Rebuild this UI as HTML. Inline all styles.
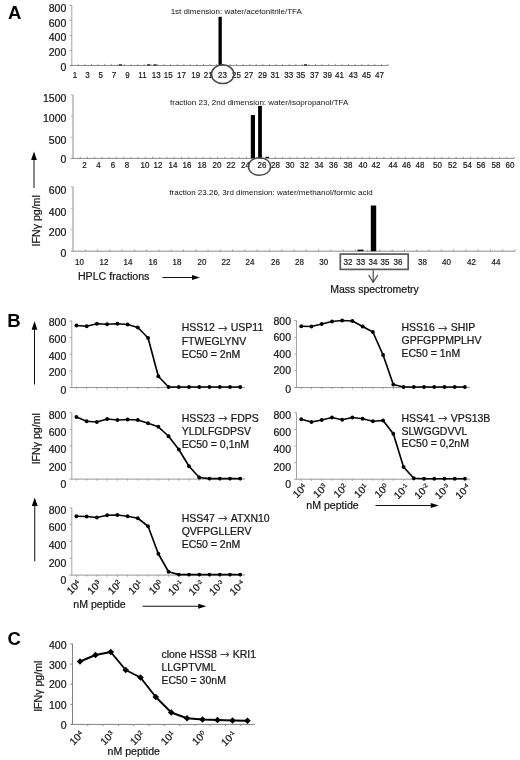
<!DOCTYPE html>
<html lang="en">
<head>
<meta charset="utf-8">
<title>Figure</title>
<style>
html,body{margin:0;padding:0;background:#fff;}
body{width:520px;height:760px;overflow:hidden;font-family:"Liberation Sans",Arial,sans-serif;}
svg{display:block;font-family:"Liberation Sans",Arial,sans-serif;}
text{stroke:#222;stroke-width:0.22px;}
text.p{stroke:none;}
</style>
</head>
<body>
<svg width="520" height="760" viewBox="0 0 520 760">
<rect x="0" y="0" width="520" height="760" fill="#ffffff"/>
<text transform="translate(8,19.2) scale(1.06,1)" class="p" font-size="17.5" font-weight="bold" fill="#000">A</text>
<text transform="translate(7.2,327.4) scale(1.06,1)" class="p" font-size="17.5" font-weight="bold" fill="#000">B</text>
<text transform="translate(7.4,645.4) scale(1.06,1)" class="p" font-size="17.5" font-weight="bold" fill="#000">C</text>
<line x1="71.8" y1="5.2" x2="71.8" y2="65.5" stroke="#a4a4a4" stroke-width="1" />
<line x1="69.6" y1="65.5" x2="388" y2="65.5" stroke="#8c8c8c" stroke-width="1" />
<line x1="69.6" y1="5.5" x2="71.8" y2="5.5" stroke="#a4a4a4" stroke-width="1" />
<line x1="69.6" y1="20.5" x2="71.8" y2="20.5" stroke="#a4a4a4" stroke-width="1" />
<line x1="69.6" y1="35.5" x2="71.8" y2="35.5" stroke="#a4a4a4" stroke-width="1" />
<line x1="69.6" y1="50.5" x2="71.8" y2="50.5" stroke="#a4a4a4" stroke-width="1" />
<line x1="78.39" y1="63.9" x2="78.39" y2="65.5" stroke="#8c8c8c" stroke-width="0.9" />
<line x1="84.97" y1="63.9" x2="84.97" y2="65.5" stroke="#8c8c8c" stroke-width="0.9" />
<line x1="91.56" y1="63.9" x2="91.56" y2="65.5" stroke="#8c8c8c" stroke-width="0.9" />
<line x1="98.15" y1="63.9" x2="98.15" y2="65.5" stroke="#8c8c8c" stroke-width="0.9" />
<line x1="104.74" y1="63.9" x2="104.74" y2="65.5" stroke="#8c8c8c" stroke-width="0.9" />
<line x1="111.32" y1="63.9" x2="111.32" y2="65.5" stroke="#8c8c8c" stroke-width="0.9" />
<line x1="117.91" y1="63.9" x2="117.91" y2="65.5" stroke="#8c8c8c" stroke-width="0.9" />
<line x1="124.5" y1="63.9" x2="124.5" y2="65.5" stroke="#8c8c8c" stroke-width="0.9" />
<line x1="131.09" y1="63.9" x2="131.09" y2="65.5" stroke="#8c8c8c" stroke-width="0.9" />
<line x1="137.68" y1="63.9" x2="137.68" y2="65.5" stroke="#8c8c8c" stroke-width="0.9" />
<line x1="144.26" y1="63.9" x2="144.26" y2="65.5" stroke="#8c8c8c" stroke-width="0.9" />
<line x1="150.85" y1="63.9" x2="150.85" y2="65.5" stroke="#8c8c8c" stroke-width="0.9" />
<line x1="157.44" y1="63.9" x2="157.44" y2="65.5" stroke="#8c8c8c" stroke-width="0.9" />
<line x1="164.03" y1="63.9" x2="164.03" y2="65.5" stroke="#8c8c8c" stroke-width="0.9" />
<line x1="170.61" y1="63.9" x2="170.61" y2="65.5" stroke="#8c8c8c" stroke-width="0.9" />
<line x1="177.2" y1="63.9" x2="177.2" y2="65.5" stroke="#8c8c8c" stroke-width="0.9" />
<line x1="183.79" y1="63.9" x2="183.79" y2="65.5" stroke="#8c8c8c" stroke-width="0.9" />
<line x1="190.38" y1="63.9" x2="190.38" y2="65.5" stroke="#8c8c8c" stroke-width="0.9" />
<line x1="196.96" y1="63.9" x2="196.96" y2="65.5" stroke="#8c8c8c" stroke-width="0.9" />
<line x1="203.55" y1="63.9" x2="203.55" y2="65.5" stroke="#8c8c8c" stroke-width="0.9" />
<line x1="210.14" y1="63.9" x2="210.14" y2="65.5" stroke="#8c8c8c" stroke-width="0.9" />
<line x1="216.72" y1="63.9" x2="216.72" y2="65.5" stroke="#8c8c8c" stroke-width="0.9" />
<line x1="223.31" y1="63.9" x2="223.31" y2="65.5" stroke="#8c8c8c" stroke-width="0.9" />
<line x1="229.9" y1="63.9" x2="229.9" y2="65.5" stroke="#8c8c8c" stroke-width="0.9" />
<line x1="236.49" y1="63.9" x2="236.49" y2="65.5" stroke="#8c8c8c" stroke-width="0.9" />
<line x1="243.07" y1="63.9" x2="243.07" y2="65.5" stroke="#8c8c8c" stroke-width="0.9" />
<line x1="249.66" y1="63.9" x2="249.66" y2="65.5" stroke="#8c8c8c" stroke-width="0.9" />
<line x1="256.25" y1="63.9" x2="256.25" y2="65.5" stroke="#8c8c8c" stroke-width="0.9" />
<line x1="262.84" y1="63.9" x2="262.84" y2="65.5" stroke="#8c8c8c" stroke-width="0.9" />
<line x1="269.43" y1="63.9" x2="269.43" y2="65.5" stroke="#8c8c8c" stroke-width="0.9" />
<line x1="276.01" y1="63.9" x2="276.01" y2="65.5" stroke="#8c8c8c" stroke-width="0.9" />
<line x1="282.6" y1="63.9" x2="282.6" y2="65.5" stroke="#8c8c8c" stroke-width="0.9" />
<line x1="289.19" y1="63.9" x2="289.19" y2="65.5" stroke="#8c8c8c" stroke-width="0.9" />
<line x1="295.77" y1="63.9" x2="295.77" y2="65.5" stroke="#8c8c8c" stroke-width="0.9" />
<line x1="302.36" y1="63.9" x2="302.36" y2="65.5" stroke="#8c8c8c" stroke-width="0.9" />
<line x1="308.95" y1="63.9" x2="308.95" y2="65.5" stroke="#8c8c8c" stroke-width="0.9" />
<line x1="315.54" y1="63.9" x2="315.54" y2="65.5" stroke="#8c8c8c" stroke-width="0.9" />
<line x1="322.12" y1="63.9" x2="322.12" y2="65.5" stroke="#8c8c8c" stroke-width="0.9" />
<line x1="328.71" y1="63.9" x2="328.71" y2="65.5" stroke="#8c8c8c" stroke-width="0.9" />
<line x1="335.3" y1="63.9" x2="335.3" y2="65.5" stroke="#8c8c8c" stroke-width="0.9" />
<line x1="341.89" y1="63.9" x2="341.89" y2="65.5" stroke="#8c8c8c" stroke-width="0.9" />
<line x1="348.48" y1="63.9" x2="348.48" y2="65.5" stroke="#8c8c8c" stroke-width="0.9" />
<line x1="355.06" y1="63.9" x2="355.06" y2="65.5" stroke="#8c8c8c" stroke-width="0.9" />
<line x1="361.65" y1="63.9" x2="361.65" y2="65.5" stroke="#8c8c8c" stroke-width="0.9" />
<line x1="368.24" y1="63.9" x2="368.24" y2="65.5" stroke="#8c8c8c" stroke-width="0.9" />
<line x1="374.82" y1="63.9" x2="374.82" y2="65.5" stroke="#8c8c8c" stroke-width="0.9" />
<line x1="381.41" y1="63.9" x2="381.41" y2="65.5" stroke="#8c8c8c" stroke-width="0.9" />
<line x1="388.0" y1="63.9" x2="388.0" y2="65.5" stroke="#8c8c8c" stroke-width="0.9" />
<text x="66.3" y="12.0" font-size="10.5" text-anchor="end" fill="#111" >800</text>
<text x="66.3" y="26.7" font-size="10.5" text-anchor="end" fill="#111" >600</text>
<text x="66.3" y="41.4" font-size="10.5" text-anchor="end" fill="#111" >400</text>
<text x="66.3" y="56.3" font-size="10.5" text-anchor="end" fill="#111" >200</text>
<text x="66.3" y="71.3" font-size="10.5" text-anchor="end" fill="#111" >0</text>
<text transform="translate(75.0,77.5) scale(0.85,1)" font-size="9.4" text-anchor="middle" fill="#111">1</text>
<text transform="translate(87.5,77.5) scale(0.85,1)" font-size="9.4" text-anchor="middle" fill="#111">3</text>
<text transform="translate(100.75,77.5) scale(0.85,1)" font-size="9.4" text-anchor="middle" fill="#111">5</text>
<text transform="translate(114.0,77.5) scale(0.85,1)" font-size="9.4" text-anchor="middle" fill="#111">7</text>
<text transform="translate(127.5,77.5) scale(0.85,1)" font-size="9.4" text-anchor="middle" fill="#111">9</text>
<text transform="translate(142.5,77.5) scale(0.85,1)" font-size="9.4" text-anchor="middle" fill="#111">11</text>
<text transform="translate(156.25,77.5) scale(0.85,1)" font-size="9.4" text-anchor="middle" fill="#111">13</text>
<text transform="translate(168.25,77.5) scale(0.85,1)" font-size="9.4" text-anchor="middle" fill="#111">15</text>
<text transform="translate(181.5,77.5) scale(0.85,1)" font-size="9.4" text-anchor="middle" fill="#111">17</text>
<text transform="translate(195.75,77.5) scale(0.85,1)" font-size="9.4" text-anchor="middle" fill="#111">19</text>
<text transform="translate(208.25,77.5) scale(0.85,1)" font-size="9.4" text-anchor="middle" fill="#111">21</text>
<text transform="translate(222.5,77.5) scale(0.85,1)" font-size="9.4" text-anchor="middle" fill="#111">23</text>
<text transform="translate(236.5,77.5) scale(0.85,1)" font-size="9.4" text-anchor="middle" fill="#111">25</text>
<text transform="translate(248.75,77.5) scale(0.85,1)" font-size="9.4" text-anchor="middle" fill="#111">27</text>
<text transform="translate(262.5,77.5) scale(0.85,1)" font-size="9.4" text-anchor="middle" fill="#111">29</text>
<text transform="translate(275.0,77.5) scale(0.85,1)" font-size="9.4" text-anchor="middle" fill="#111">31</text>
<text transform="translate(288.75,77.5) scale(0.85,1)" font-size="9.4" text-anchor="middle" fill="#111">33</text>
<text transform="translate(300.75,77.5) scale(0.85,1)" font-size="9.4" text-anchor="middle" fill="#111">35</text>
<text transform="translate(314.5,77.5) scale(0.85,1)" font-size="9.4" text-anchor="middle" fill="#111">37</text>
<text transform="translate(327.5,77.5) scale(0.85,1)" font-size="9.4" text-anchor="middle" fill="#111">39</text>
<text transform="translate(339.5,77.5) scale(0.85,1)" font-size="9.4" text-anchor="middle" fill="#111">41</text>
<text transform="translate(353.25,77.5) scale(0.85,1)" font-size="9.4" text-anchor="middle" fill="#111">43</text>
<text transform="translate(366.5,77.5) scale(0.85,1)" font-size="9.4" text-anchor="middle" fill="#111">45</text>
<text transform="translate(379.5,77.5) scale(0.85,1)" font-size="9.4" text-anchor="middle" fill="#111">47</text>
<rect x="218.5" y="16.8" width="3.3" height="48.7" fill="#000"/>
<rect x="119" y="64.3" width="3" height="1.2" fill="#111"/>
<rect x="147" y="64.3" width="3" height="1.2" fill="#111"/>
<rect x="153.5" y="64.3" width="3" height="1.2" fill="#111"/>
<rect x="304" y="64.3" width="3" height="1.2" fill="#111"/>
<text x="236.25" y="13.6" font-size="8" text-anchor="middle" fill="#111" class="p">1st dimension: water/acetonitrile/TFA</text>
<ellipse cx="222.7" cy="74.2" rx="11.2" ry="9.4" fill="none" stroke="#4a4a4a" stroke-width="1.5"/>
<line x1="73" y1="94.7" x2="73" y2="158.4" stroke="#b4b4b4" stroke-width="1.5" />
<line x1="70.8" y1="158.4" x2="514" y2="158.4" stroke="#8c8c8c" stroke-width="1" />
<line x1="70.8" y1="95.0" x2="73" y2="95.0" stroke="#b4b4b4" stroke-width="1" />
<line x1="70.8" y1="116.13" x2="73" y2="116.13" stroke="#b4b4b4" stroke-width="1" />
<line x1="70.8" y1="137.27" x2="73" y2="137.27" stroke="#b4b4b4" stroke-width="1" />
<line x1="80.23" y1="156.8" x2="80.23" y2="158.4" stroke="#8c8c8c" stroke-width="0.9" />
<line x1="87.46" y1="156.8" x2="87.46" y2="158.4" stroke="#8c8c8c" stroke-width="0.9" />
<line x1="94.69" y1="156.8" x2="94.69" y2="158.4" stroke="#8c8c8c" stroke-width="0.9" />
<line x1="101.92" y1="156.8" x2="101.92" y2="158.4" stroke="#8c8c8c" stroke-width="0.9" />
<line x1="109.15" y1="156.8" x2="109.15" y2="158.4" stroke="#8c8c8c" stroke-width="0.9" />
<line x1="116.38" y1="156.8" x2="116.38" y2="158.4" stroke="#8c8c8c" stroke-width="0.9" />
<line x1="123.61" y1="156.8" x2="123.61" y2="158.4" stroke="#8c8c8c" stroke-width="0.9" />
<line x1="130.84" y1="156.8" x2="130.84" y2="158.4" stroke="#8c8c8c" stroke-width="0.9" />
<line x1="138.07" y1="156.8" x2="138.07" y2="158.4" stroke="#8c8c8c" stroke-width="0.9" />
<line x1="145.3" y1="156.8" x2="145.3" y2="158.4" stroke="#8c8c8c" stroke-width="0.9" />
<line x1="152.52" y1="156.8" x2="152.52" y2="158.4" stroke="#8c8c8c" stroke-width="0.9" />
<line x1="159.75" y1="156.8" x2="159.75" y2="158.4" stroke="#8c8c8c" stroke-width="0.9" />
<line x1="166.98" y1="156.8" x2="166.98" y2="158.4" stroke="#8c8c8c" stroke-width="0.9" />
<line x1="174.21" y1="156.8" x2="174.21" y2="158.4" stroke="#8c8c8c" stroke-width="0.9" />
<line x1="181.44" y1="156.8" x2="181.44" y2="158.4" stroke="#8c8c8c" stroke-width="0.9" />
<line x1="188.67" y1="156.8" x2="188.67" y2="158.4" stroke="#8c8c8c" stroke-width="0.9" />
<line x1="195.9" y1="156.8" x2="195.9" y2="158.4" stroke="#8c8c8c" stroke-width="0.9" />
<line x1="203.13" y1="156.8" x2="203.13" y2="158.4" stroke="#8c8c8c" stroke-width="0.9" />
<line x1="210.36" y1="156.8" x2="210.36" y2="158.4" stroke="#8c8c8c" stroke-width="0.9" />
<line x1="217.59" y1="156.8" x2="217.59" y2="158.4" stroke="#8c8c8c" stroke-width="0.9" />
<line x1="224.82" y1="156.8" x2="224.82" y2="158.4" stroke="#8c8c8c" stroke-width="0.9" />
<line x1="232.05" y1="156.8" x2="232.05" y2="158.4" stroke="#8c8c8c" stroke-width="0.9" />
<line x1="239.28" y1="156.8" x2="239.28" y2="158.4" stroke="#8c8c8c" stroke-width="0.9" />
<line x1="246.51" y1="156.8" x2="246.51" y2="158.4" stroke="#8c8c8c" stroke-width="0.9" />
<line x1="253.74" y1="156.8" x2="253.74" y2="158.4" stroke="#8c8c8c" stroke-width="0.9" />
<line x1="260.97" y1="156.8" x2="260.97" y2="158.4" stroke="#8c8c8c" stroke-width="0.9" />
<line x1="268.2" y1="156.8" x2="268.2" y2="158.4" stroke="#8c8c8c" stroke-width="0.9" />
<line x1="275.43" y1="156.8" x2="275.43" y2="158.4" stroke="#8c8c8c" stroke-width="0.9" />
<line x1="282.66" y1="156.8" x2="282.66" y2="158.4" stroke="#8c8c8c" stroke-width="0.9" />
<line x1="289.89" y1="156.8" x2="289.89" y2="158.4" stroke="#8c8c8c" stroke-width="0.9" />
<line x1="297.11" y1="156.8" x2="297.11" y2="158.4" stroke="#8c8c8c" stroke-width="0.9" />
<line x1="304.34" y1="156.8" x2="304.34" y2="158.4" stroke="#8c8c8c" stroke-width="0.9" />
<line x1="311.57" y1="156.8" x2="311.57" y2="158.4" stroke="#8c8c8c" stroke-width="0.9" />
<line x1="318.8" y1="156.8" x2="318.8" y2="158.4" stroke="#8c8c8c" stroke-width="0.9" />
<line x1="326.03" y1="156.8" x2="326.03" y2="158.4" stroke="#8c8c8c" stroke-width="0.9" />
<line x1="333.26" y1="156.8" x2="333.26" y2="158.4" stroke="#8c8c8c" stroke-width="0.9" />
<line x1="340.49" y1="156.8" x2="340.49" y2="158.4" stroke="#8c8c8c" stroke-width="0.9" />
<line x1="347.72" y1="156.8" x2="347.72" y2="158.4" stroke="#8c8c8c" stroke-width="0.9" />
<line x1="354.95" y1="156.8" x2="354.95" y2="158.4" stroke="#8c8c8c" stroke-width="0.9" />
<line x1="362.18" y1="156.8" x2="362.18" y2="158.4" stroke="#8c8c8c" stroke-width="0.9" />
<line x1="369.41" y1="156.8" x2="369.41" y2="158.4" stroke="#8c8c8c" stroke-width="0.9" />
<line x1="376.64" y1="156.8" x2="376.64" y2="158.4" stroke="#8c8c8c" stroke-width="0.9" />
<line x1="383.87" y1="156.8" x2="383.87" y2="158.4" stroke="#8c8c8c" stroke-width="0.9" />
<line x1="391.1" y1="156.8" x2="391.1" y2="158.4" stroke="#8c8c8c" stroke-width="0.9" />
<line x1="398.33" y1="156.8" x2="398.33" y2="158.4" stroke="#8c8c8c" stroke-width="0.9" />
<line x1="405.56" y1="156.8" x2="405.56" y2="158.4" stroke="#8c8c8c" stroke-width="0.9" />
<line x1="412.79" y1="156.8" x2="412.79" y2="158.4" stroke="#8c8c8c" stroke-width="0.9" />
<line x1="420.02" y1="156.8" x2="420.02" y2="158.4" stroke="#8c8c8c" stroke-width="0.9" />
<line x1="427.25" y1="156.8" x2="427.25" y2="158.4" stroke="#8c8c8c" stroke-width="0.9" />
<line x1="434.48" y1="156.8" x2="434.48" y2="158.4" stroke="#8c8c8c" stroke-width="0.9" />
<line x1="441.7" y1="156.8" x2="441.7" y2="158.4" stroke="#8c8c8c" stroke-width="0.9" />
<line x1="448.93" y1="156.8" x2="448.93" y2="158.4" stroke="#8c8c8c" stroke-width="0.9" />
<line x1="456.16" y1="156.8" x2="456.16" y2="158.4" stroke="#8c8c8c" stroke-width="0.9" />
<line x1="463.39" y1="156.8" x2="463.39" y2="158.4" stroke="#8c8c8c" stroke-width="0.9" />
<line x1="470.62" y1="156.8" x2="470.62" y2="158.4" stroke="#8c8c8c" stroke-width="0.9" />
<line x1="477.85" y1="156.8" x2="477.85" y2="158.4" stroke="#8c8c8c" stroke-width="0.9" />
<line x1="485.08" y1="156.8" x2="485.08" y2="158.4" stroke="#8c8c8c" stroke-width="0.9" />
<line x1="492.31" y1="156.8" x2="492.31" y2="158.4" stroke="#8c8c8c" stroke-width="0.9" />
<line x1="499.54" y1="156.8" x2="499.54" y2="158.4" stroke="#8c8c8c" stroke-width="0.9" />
<line x1="506.77" y1="156.8" x2="506.77" y2="158.4" stroke="#8c8c8c" stroke-width="0.9" />
<line x1="514.0" y1="156.8" x2="514.0" y2="158.4" stroke="#8c8c8c" stroke-width="0.9" />
<text x="66.4" y="101.8" font-size="10.5" text-anchor="end" fill="#111" >1500</text>
<text x="66.4" y="122.3" font-size="10.5" text-anchor="end" fill="#111" >1000</text>
<text x="66.4" y="143.8" font-size="10.5" text-anchor="end" fill="#111" >500</text>
<text x="66.4" y="162.8" font-size="10.5" text-anchor="end" fill="#111" >0</text>
<text transform="translate(84.5,168.4) scale(0.85,1)" font-size="9.4" text-anchor="middle" fill="#111">2</text>
<text transform="translate(98.5,168.4) scale(0.85,1)" font-size="9.4" text-anchor="middle" fill="#111">4</text>
<text transform="translate(113,168.4) scale(0.85,1)" font-size="9.4" text-anchor="middle" fill="#111">6</text>
<text transform="translate(127,168.4) scale(0.85,1)" font-size="9.4" text-anchor="middle" fill="#111">8</text>
<text transform="translate(145,168.4) scale(0.85,1)" font-size="9.4" text-anchor="middle" fill="#111">10</text>
<text transform="translate(158,168.4) scale(0.85,1)" font-size="9.4" text-anchor="middle" fill="#111">12</text>
<text transform="translate(173,168.4) scale(0.85,1)" font-size="9.4" text-anchor="middle" fill="#111">14</text>
<text transform="translate(187,168.4) scale(0.85,1)" font-size="9.4" text-anchor="middle" fill="#111">16</text>
<text transform="translate(202,168.4) scale(0.85,1)" font-size="9.4" text-anchor="middle" fill="#111">18</text>
<text transform="translate(217,168.4) scale(0.85,1)" font-size="9.4" text-anchor="middle" fill="#111">20</text>
<text transform="translate(231,168.4) scale(0.85,1)" font-size="9.4" text-anchor="middle" fill="#111">22</text>
<text transform="translate(245.5,168.4) scale(0.85,1)" font-size="9.4" text-anchor="middle" fill="#111">24</text>
<text transform="translate(262,168.4) scale(0.85,1)" font-size="9.4" text-anchor="middle" fill="#111">26</text>
<text transform="translate(275.5,168.4) scale(0.85,1)" font-size="9.4" text-anchor="middle" fill="#111">28</text>
<text transform="translate(290,168.4) scale(0.85,1)" font-size="9.4" text-anchor="middle" fill="#111">30</text>
<text transform="translate(304.5,168.4) scale(0.85,1)" font-size="9.4" text-anchor="middle" fill="#111">32</text>
<text transform="translate(319,168.4) scale(0.85,1)" font-size="9.4" text-anchor="middle" fill="#111">34</text>
<text transform="translate(333.5,168.4) scale(0.85,1)" font-size="9.4" text-anchor="middle" fill="#111">36</text>
<text transform="translate(348,168.4) scale(0.85,1)" font-size="9.4" text-anchor="middle" fill="#111">38</text>
<text transform="translate(363,168.4) scale(0.85,1)" font-size="9.4" text-anchor="middle" fill="#111">40</text>
<text transform="translate(376,168.4) scale(0.85,1)" font-size="9.4" text-anchor="middle" fill="#111">42</text>
<text transform="translate(393.0,168.4) scale(0.85,1)" font-size="9.4" text-anchor="middle" fill="#111">44</text>
<text transform="translate(406.5,168.4) scale(0.85,1)" font-size="9.4" text-anchor="middle" fill="#111">46</text>
<text transform="translate(420.0,168.4) scale(0.85,1)" font-size="9.4" text-anchor="middle" fill="#111">48</text>
<text transform="translate(437.5,168.4) scale(0.85,1)" font-size="9.4" text-anchor="middle" fill="#111">50</text>
<text transform="translate(452.5,168.4) scale(0.85,1)" font-size="9.4" text-anchor="middle" fill="#111">52</text>
<text transform="translate(467.5,168.4) scale(0.85,1)" font-size="9.4" text-anchor="middle" fill="#111">54</text>
<text transform="translate(481.0,168.4) scale(0.85,1)" font-size="9.4" text-anchor="middle" fill="#111">56</text>
<text transform="translate(496.0,168.4) scale(0.85,1)" font-size="9.4" text-anchor="middle" fill="#111">58</text>
<text transform="translate(510.0,168.4) scale(0.85,1)" font-size="9.4" text-anchor="middle" fill="#111">60</text>
<rect x="250.8" y="115.1" width="4.2" height="43.3" fill="#000"/>
<rect x="258.1" y="105.9" width="3.8" height="52.5" fill="#000"/>
<rect x="265.4" y="156.8" width="3.6" height="1.2" fill="#111"/>
<text x="259.2" y="105.2" font-size="8" text-anchor="middle" fill="#111" class="p">fraction 23, 2nd dimension: water/isopropanol/TFA</text>
<ellipse cx="259.5" cy="166.5" rx="11.1" ry="8.8" fill="none" stroke="#4a4a4a" stroke-width="1.5"/>
<line x1="73" y1="186.7" x2="73" y2="251.2" stroke="#b4b4b4" stroke-width="1.5" />
<line x1="70.8" y1="251.2" x2="515" y2="251.2" stroke="#8c8c8c" stroke-width="1" />
<line x1="70.8" y1="187.0" x2="73" y2="187.0" stroke="#b4b4b4" stroke-width="1" />
<line x1="70.8" y1="208.4" x2="73" y2="208.4" stroke="#b4b4b4" stroke-width="1" />
<line x1="70.8" y1="229.8" x2="73" y2="229.8" stroke="#b4b4b4" stroke-width="1" />
<line x1="85.28" y1="249.6" x2="85.28" y2="251.2" stroke="#8c8c8c" stroke-width="0.9" />
<line x1="97.56" y1="249.6" x2="97.56" y2="251.2" stroke="#8c8c8c" stroke-width="0.9" />
<line x1="109.83" y1="249.6" x2="109.83" y2="251.2" stroke="#8c8c8c" stroke-width="0.9" />
<line x1="122.11" y1="249.6" x2="122.11" y2="251.2" stroke="#8c8c8c" stroke-width="0.9" />
<line x1="134.39" y1="249.6" x2="134.39" y2="251.2" stroke="#8c8c8c" stroke-width="0.9" />
<line x1="146.67" y1="249.6" x2="146.67" y2="251.2" stroke="#8c8c8c" stroke-width="0.9" />
<line x1="158.94" y1="249.6" x2="158.94" y2="251.2" stroke="#8c8c8c" stroke-width="0.9" />
<line x1="171.22" y1="249.6" x2="171.22" y2="251.2" stroke="#8c8c8c" stroke-width="0.9" />
<line x1="183.5" y1="249.6" x2="183.5" y2="251.2" stroke="#8c8c8c" stroke-width="0.9" />
<line x1="195.78" y1="249.6" x2="195.78" y2="251.2" stroke="#8c8c8c" stroke-width="0.9" />
<line x1="208.06" y1="249.6" x2="208.06" y2="251.2" stroke="#8c8c8c" stroke-width="0.9" />
<line x1="220.33" y1="249.6" x2="220.33" y2="251.2" stroke="#8c8c8c" stroke-width="0.9" />
<line x1="232.61" y1="249.6" x2="232.61" y2="251.2" stroke="#8c8c8c" stroke-width="0.9" />
<line x1="244.89" y1="249.6" x2="244.89" y2="251.2" stroke="#8c8c8c" stroke-width="0.9" />
<line x1="257.17" y1="249.6" x2="257.17" y2="251.2" stroke="#8c8c8c" stroke-width="0.9" />
<line x1="269.44" y1="249.6" x2="269.44" y2="251.2" stroke="#8c8c8c" stroke-width="0.9" />
<line x1="281.72" y1="249.6" x2="281.72" y2="251.2" stroke="#8c8c8c" stroke-width="0.9" />
<line x1="294.0" y1="249.6" x2="294.0" y2="251.2" stroke="#8c8c8c" stroke-width="0.9" />
<line x1="306.28" y1="249.6" x2="306.28" y2="251.2" stroke="#8c8c8c" stroke-width="0.9" />
<line x1="318.56" y1="249.6" x2="318.56" y2="251.2" stroke="#8c8c8c" stroke-width="0.9" />
<line x1="330.83" y1="249.6" x2="330.83" y2="251.2" stroke="#8c8c8c" stroke-width="0.9" />
<line x1="343.11" y1="249.6" x2="343.11" y2="251.2" stroke="#8c8c8c" stroke-width="0.9" />
<line x1="355.39" y1="249.6" x2="355.39" y2="251.2" stroke="#8c8c8c" stroke-width="0.9" />
<line x1="367.67" y1="249.6" x2="367.67" y2="251.2" stroke="#8c8c8c" stroke-width="0.9" />
<line x1="379.94" y1="249.6" x2="379.94" y2="251.2" stroke="#8c8c8c" stroke-width="0.9" />
<line x1="392.22" y1="249.6" x2="392.22" y2="251.2" stroke="#8c8c8c" stroke-width="0.9" />
<line x1="404.5" y1="249.6" x2="404.5" y2="251.2" stroke="#8c8c8c" stroke-width="0.9" />
<line x1="416.78" y1="249.6" x2="416.78" y2="251.2" stroke="#8c8c8c" stroke-width="0.9" />
<line x1="429.06" y1="249.6" x2="429.06" y2="251.2" stroke="#8c8c8c" stroke-width="0.9" />
<line x1="441.33" y1="249.6" x2="441.33" y2="251.2" stroke="#8c8c8c" stroke-width="0.9" />
<line x1="453.61" y1="249.6" x2="453.61" y2="251.2" stroke="#8c8c8c" stroke-width="0.9" />
<line x1="465.89" y1="249.6" x2="465.89" y2="251.2" stroke="#8c8c8c" stroke-width="0.9" />
<line x1="478.17" y1="249.6" x2="478.17" y2="251.2" stroke="#8c8c8c" stroke-width="0.9" />
<line x1="490.44" y1="249.6" x2="490.44" y2="251.2" stroke="#8c8c8c" stroke-width="0.9" />
<line x1="502.72" y1="249.6" x2="502.72" y2="251.2" stroke="#8c8c8c" stroke-width="0.9" />
<line x1="515.0" y1="249.6" x2="515.0" y2="251.2" stroke="#8c8c8c" stroke-width="0.9" />
<text x="66.4" y="193.8" font-size="10.5" text-anchor="end" fill="#111" >600</text>
<text x="66.4" y="215.8" font-size="10.5" text-anchor="end" fill="#111" >400</text>
<text x="66.4" y="235.8" font-size="10.5" text-anchor="end" fill="#111" >200</text>
<text x="66.4" y="256.8" font-size="10.5" text-anchor="end" fill="#111" >0</text>
<text transform="translate(79.5,264.8) scale(0.85,1)" font-size="9.4" text-anchor="middle" fill="#111">10</text>
<text transform="translate(104,264.8) scale(0.85,1)" font-size="9.4" text-anchor="middle" fill="#111">12</text>
<text transform="translate(128,264.8) scale(0.85,1)" font-size="9.4" text-anchor="middle" fill="#111">14</text>
<text transform="translate(153,264.8) scale(0.85,1)" font-size="9.4" text-anchor="middle" fill="#111">16</text>
<text transform="translate(177,264.8) scale(0.85,1)" font-size="9.4" text-anchor="middle" fill="#111">18</text>
<text transform="translate(202,264.8) scale(0.85,1)" font-size="9.4" text-anchor="middle" fill="#111">20</text>
<text transform="translate(226,264.8) scale(0.85,1)" font-size="9.4" text-anchor="middle" fill="#111">22</text>
<text transform="translate(250,264.8) scale(0.85,1)" font-size="9.4" text-anchor="middle" fill="#111">24</text>
<text transform="translate(275.5,264.8) scale(0.85,1)" font-size="9.4" text-anchor="middle" fill="#111">26</text>
<text transform="translate(299.5,264.8) scale(0.85,1)" font-size="9.4" text-anchor="middle" fill="#111">28</text>
<text transform="translate(323.75,264.8) scale(0.85,1)" font-size="9.4" text-anchor="middle" fill="#111">30</text>
<text transform="translate(348,264.8) scale(0.85,1)" font-size="9.4" text-anchor="middle" fill="#111">32</text>
<text transform="translate(360.75,264.8) scale(0.85,1)" font-size="9.4" text-anchor="middle" fill="#111">33</text>
<text transform="translate(373,264.8) scale(0.85,1)" font-size="9.4" text-anchor="middle" fill="#111">34</text>
<text transform="translate(385,264.8) scale(0.85,1)" font-size="9.4" text-anchor="middle" fill="#111">35</text>
<text transform="translate(398,264.8) scale(0.85,1)" font-size="9.4" text-anchor="middle" fill="#111">36</text>
<text transform="translate(422.5,264.8) scale(0.85,1)" font-size="9.4" text-anchor="middle" fill="#111">38</text>
<text transform="translate(446.5,264.8) scale(0.85,1)" font-size="9.4" text-anchor="middle" fill="#111">40</text>
<text transform="translate(471.5,264.8) scale(0.85,1)" font-size="9.4" text-anchor="middle" fill="#111">42</text>
<text transform="translate(496,264.8) scale(0.85,1)" font-size="9.4" text-anchor="middle" fill="#111">44</text>
<rect x="370.8" y="205.5" width="5.4" height="45.7" fill="#000"/>
<rect x="357.5" y="249.6" width="6" height="1.6" fill="#111"/>
<text x="271" y="194.9" font-size="8" text-anchor="middle" fill="#111" class="p">fraction 23.26, 3rd dimension: water/methanol/formic acid</text>
<rect x="340.3" y="254.1" width="67.9" height="15.3" fill="none" stroke="#5a5a5a" stroke-width="1.7"/>
<line x1="373.2" y1="270.3" x2="373.2" y2="282" stroke="#4a4a4a" stroke-width="1.2" />
<polyline points="368.6,275 373.2,282.3 377.8,275" fill="none" stroke="#4a4a4a" stroke-width="1.2"/>
<text x="374.5" y="292.5" font-size="10.5" text-anchor="middle" fill="#111" >Mass spectrometry</text>
<text x="77.9" y="279.6" font-size="10.65" text-anchor="start" fill="#111" >HPLC fractions</text>
<line x1="162.5" y1="277.5" x2="194" y2="277.5" stroke="#111" stroke-width="1" />
<polygon points="200,277.5 192,274.9 192,280.1" fill="#000"/>
<line x1="34" y1="188" x2="34" y2="157.5" stroke="#111" stroke-width="1" />
<polygon points="34,151.5 31.1,159.9 36.9,159.9" fill="#000"/>
<text transform="translate(40,220.8) rotate(-90)" font-size="10.6" text-anchor="middle" fill="#111">IFNγ pg/ml</text>
<line x1="71.8" y1="320.7" x2="71.8" y2="387.5" stroke="#a4a4a4" stroke-width="1" />
<line x1="69.6" y1="387.5" x2="245" y2="387.5" stroke="#969696" stroke-width="1" />
<line x1="69.6" y1="321.0" x2="71.8" y2="321.0" stroke="#a4a4a4" stroke-width="1" />
<line x1="69.6" y1="337.62" x2="71.8" y2="337.62" stroke="#a4a4a4" stroke-width="1" />
<line x1="69.6" y1="354.25" x2="71.8" y2="354.25" stroke="#a4a4a4" stroke-width="1" />
<line x1="69.6" y1="370.88" x2="71.8" y2="370.88" stroke="#a4a4a4" stroke-width="1" />
<line x1="76.4" y1="387.5" x2="76.4" y2="389.1" stroke="#969696" stroke-width="0.9" />
<line x1="86.64" y1="387.5" x2="86.64" y2="389.1" stroke="#969696" stroke-width="0.9" />
<line x1="96.88" y1="387.5" x2="96.88" y2="389.1" stroke="#969696" stroke-width="0.9" />
<line x1="107.12" y1="387.5" x2="107.12" y2="389.1" stroke="#969696" stroke-width="0.9" />
<line x1="117.36" y1="387.5" x2="117.36" y2="389.1" stroke="#969696" stroke-width="0.9" />
<line x1="127.6" y1="387.5" x2="127.6" y2="389.1" stroke="#969696" stroke-width="0.9" />
<line x1="137.84" y1="387.5" x2="137.84" y2="389.1" stroke="#969696" stroke-width="0.9" />
<line x1="148.08" y1="387.5" x2="148.08" y2="389.1" stroke="#969696" stroke-width="0.9" />
<line x1="158.32" y1="387.5" x2="158.32" y2="389.1" stroke="#969696" stroke-width="0.9" />
<line x1="168.56" y1="387.5" x2="168.56" y2="389.1" stroke="#969696" stroke-width="0.9" />
<line x1="178.8" y1="387.5" x2="178.8" y2="389.1" stroke="#969696" stroke-width="0.9" />
<line x1="189.04" y1="387.5" x2="189.04" y2="389.1" stroke="#969696" stroke-width="0.9" />
<line x1="199.28" y1="387.5" x2="199.28" y2="389.1" stroke="#969696" stroke-width="0.9" />
<line x1="209.52" y1="387.5" x2="209.52" y2="389.1" stroke="#969696" stroke-width="0.9" />
<line x1="219.76" y1="387.5" x2="219.76" y2="389.1" stroke="#969696" stroke-width="0.9" />
<line x1="230.0" y1="387.5" x2="230.0" y2="389.1" stroke="#969696" stroke-width="0.9" />
<line x1="240.24" y1="387.5" x2="240.24" y2="389.1" stroke="#969696" stroke-width="0.9" />
<text x="66.3" y="325.8" font-size="10.5" text-anchor="end" fill="#111" >800</text>
<text x="66.3" y="342.55" font-size="10.5" text-anchor="end" fill="#111" >600</text>
<text x="66.3" y="359.55" font-size="10.5" text-anchor="end" fill="#111" >400</text>
<text x="66.3" y="376.3" font-size="10.5" text-anchor="end" fill="#111" >200</text>
<text x="66.3" y="393.8" font-size="10.5" text-anchor="end" fill="#111" >0</text>
<polyline points="76.4,325.5 86.64,326.25 96.88,323.75 107.12,324.25 117.36,323.75 127.6,324.5 137.84,327.5 148.08,338 158.32,376.25 168.56,387 178.8,387 189.04,387 199.28,387 209.52,387 219.76,387 230.0,387 240.24,387" fill="none" stroke="#000" stroke-width="1.65" stroke-linejoin="round"/>
<circle cx="76.4" cy="325.5" r="1.9" fill="#000"/>
<circle cx="86.64" cy="326.25" r="1.9" fill="#000"/>
<circle cx="96.88" cy="323.75" r="1.9" fill="#000"/>
<circle cx="107.12" cy="324.25" r="1.9" fill="#000"/>
<circle cx="117.36" cy="323.75" r="1.9" fill="#000"/>
<circle cx="127.6" cy="324.5" r="1.9" fill="#000"/>
<circle cx="137.84" cy="327.5" r="1.9" fill="#000"/>
<circle cx="148.08" cy="338" r="1.9" fill="#000"/>
<circle cx="158.32" cy="376.25" r="1.9" fill="#000"/>
<circle cx="168.56" cy="387" r="1.9" fill="#000"/>
<circle cx="178.8" cy="387" r="1.9" fill="#000"/>
<circle cx="189.04" cy="387" r="1.9" fill="#000"/>
<circle cx="199.28" cy="387" r="1.9" fill="#000"/>
<circle cx="209.52" cy="387" r="1.9" fill="#000"/>
<circle cx="219.76" cy="387" r="1.9" fill="#000"/>
<circle cx="230.0" cy="387" r="1.9" fill="#000"/>
<circle cx="240.24" cy="387" r="1.9" fill="#000"/>
<text x="181.65" y="331.15" font-size="10.5" text-anchor="start" fill="#111" >HSS12<tspan font-family="DejaVu Sans, sans-serif" font-size="12" dx="2.6" dy="0.6" fill="#444" stroke="none">→</tspan><tspan dx="3.2" dy="-0.6">USP11</tspan></text>
<text x="181.65" y="344.65" font-size="10.5" text-anchor="start" fill="#111" >FTWEGLYNV</text>
<text x="181.65" y="357.9" font-size="10.5" text-anchor="start" fill="#111" >EC50 = 2nM</text>
<line x1="296.5" y1="320.2" x2="296.5" y2="387.5" stroke="#a4a4a4" stroke-width="1" />
<line x1="294.3" y1="387.5" x2="470" y2="387.5" stroke="#969696" stroke-width="1" />
<line x1="294.3" y1="320.5" x2="296.5" y2="320.5" stroke="#a4a4a4" stroke-width="1" />
<line x1="294.3" y1="337.25" x2="296.5" y2="337.25" stroke="#a4a4a4" stroke-width="1" />
<line x1="294.3" y1="354.0" x2="296.5" y2="354.0" stroke="#a4a4a4" stroke-width="1" />
<line x1="294.3" y1="370.75" x2="296.5" y2="370.75" stroke="#a4a4a4" stroke-width="1" />
<line x1="301.25" y1="387.5" x2="301.25" y2="389.1" stroke="#969696" stroke-width="0.9" />
<line x1="311.48" y1="387.5" x2="311.48" y2="389.1" stroke="#969696" stroke-width="0.9" />
<line x1="321.71" y1="387.5" x2="321.71" y2="389.1" stroke="#969696" stroke-width="0.9" />
<line x1="331.94" y1="387.5" x2="331.94" y2="389.1" stroke="#969696" stroke-width="0.9" />
<line x1="342.17" y1="387.5" x2="342.17" y2="389.1" stroke="#969696" stroke-width="0.9" />
<line x1="352.4" y1="387.5" x2="352.4" y2="389.1" stroke="#969696" stroke-width="0.9" />
<line x1="362.63" y1="387.5" x2="362.63" y2="389.1" stroke="#969696" stroke-width="0.9" />
<line x1="372.86" y1="387.5" x2="372.86" y2="389.1" stroke="#969696" stroke-width="0.9" />
<line x1="383.09" y1="387.5" x2="383.09" y2="389.1" stroke="#969696" stroke-width="0.9" />
<line x1="393.32" y1="387.5" x2="393.32" y2="389.1" stroke="#969696" stroke-width="0.9" />
<line x1="403.55" y1="387.5" x2="403.55" y2="389.1" stroke="#969696" stroke-width="0.9" />
<line x1="413.78" y1="387.5" x2="413.78" y2="389.1" stroke="#969696" stroke-width="0.9" />
<line x1="424.01" y1="387.5" x2="424.01" y2="389.1" stroke="#969696" stroke-width="0.9" />
<line x1="434.24" y1="387.5" x2="434.24" y2="389.1" stroke="#969696" stroke-width="0.9" />
<line x1="444.47" y1="387.5" x2="444.47" y2="389.1" stroke="#969696" stroke-width="0.9" />
<line x1="454.7" y1="387.5" x2="454.7" y2="389.1" stroke="#969696" stroke-width="0.9" />
<line x1="464.93" y1="387.5" x2="464.93" y2="389.1" stroke="#969696" stroke-width="0.9" />
<text x="291.0" y="325.05" font-size="10.5" text-anchor="end" fill="#111" >800</text>
<text x="291.0" y="341.3" font-size="10.5" text-anchor="end" fill="#111" >600</text>
<text x="291.0" y="358.05" font-size="10.5" text-anchor="end" fill="#111" >400</text>
<text x="291.0" y="374.3" font-size="10.5" text-anchor="end" fill="#111" >200</text>
<text x="291.0" y="392.55" font-size="10.5" text-anchor="end" fill="#111" >0</text>
<polyline points="301.25,326.25 311.48,326.5 321.71,324 331.94,321.5 342.17,320.5 352.4,321 362.63,326.5 372.86,332 383.09,355 393.32,384.5 403.55,387 413.78,387 424.01,387 434.24,387 444.47,387 454.7,387 464.93,387" fill="none" stroke="#000" stroke-width="1.65" stroke-linejoin="round"/>
<circle cx="301.25" cy="326.25" r="1.9" fill="#000"/>
<circle cx="311.48" cy="326.5" r="1.9" fill="#000"/>
<circle cx="321.71" cy="324" r="1.9" fill="#000"/>
<circle cx="331.94" cy="321.5" r="1.9" fill="#000"/>
<circle cx="342.17" cy="320.5" r="1.9" fill="#000"/>
<circle cx="352.4" cy="321" r="1.9" fill="#000"/>
<circle cx="362.63" cy="326.5" r="1.9" fill="#000"/>
<circle cx="372.86" cy="332" r="1.9" fill="#000"/>
<circle cx="383.09" cy="355" r="1.9" fill="#000"/>
<circle cx="393.32" cy="384.5" r="1.9" fill="#000"/>
<circle cx="403.55" cy="387" r="1.9" fill="#000"/>
<circle cx="413.78" cy="387" r="1.9" fill="#000"/>
<circle cx="424.01" cy="387" r="1.9" fill="#000"/>
<circle cx="434.24" cy="387" r="1.9" fill="#000"/>
<circle cx="444.47" cy="387" r="1.9" fill="#000"/>
<circle cx="454.7" cy="387" r="1.9" fill="#000"/>
<circle cx="464.93" cy="387" r="1.9" fill="#000"/>
<text x="401.5" y="331.15" font-size="10.5" text-anchor="start" fill="#111" >HSS16<tspan font-family="DejaVu Sans, sans-serif" font-size="12" dx="2.6" dy="0.6" fill="#444" stroke="none">→</tspan><tspan dx="3.2" dy="-0.6">SHIP</tspan></text>
<text x="401.5" y="344.15" font-size="10.5" text-anchor="start" fill="#111" >GPFGPPMPLHV</text>
<text x="401.5" y="356.65" font-size="10.5" text-anchor="start" fill="#111" >EC50 = 1nM</text>
<line x1="71.8" y1="412.5" x2="71.8" y2="479.1" stroke="#a4a4a4" stroke-width="1" />
<line x1="69.6" y1="479.1" x2="245" y2="479.1" stroke="#969696" stroke-width="1" />
<line x1="69.6" y1="412.8" x2="71.8" y2="412.8" stroke="#a4a4a4" stroke-width="1" />
<line x1="69.6" y1="429.38" x2="71.8" y2="429.38" stroke="#a4a4a4" stroke-width="1" />
<line x1="69.6" y1="445.95" x2="71.8" y2="445.95" stroke="#a4a4a4" stroke-width="1" />
<line x1="69.6" y1="462.53" x2="71.8" y2="462.53" stroke="#a4a4a4" stroke-width="1" />
<line x1="76.4" y1="479.1" x2="76.4" y2="480.7" stroke="#969696" stroke-width="0.9" />
<line x1="86.64" y1="479.1" x2="86.64" y2="480.7" stroke="#969696" stroke-width="0.9" />
<line x1="96.88" y1="479.1" x2="96.88" y2="480.7" stroke="#969696" stroke-width="0.9" />
<line x1="107.12" y1="479.1" x2="107.12" y2="480.7" stroke="#969696" stroke-width="0.9" />
<line x1="117.36" y1="479.1" x2="117.36" y2="480.7" stroke="#969696" stroke-width="0.9" />
<line x1="127.6" y1="479.1" x2="127.6" y2="480.7" stroke="#969696" stroke-width="0.9" />
<line x1="137.84" y1="479.1" x2="137.84" y2="480.7" stroke="#969696" stroke-width="0.9" />
<line x1="148.08" y1="479.1" x2="148.08" y2="480.7" stroke="#969696" stroke-width="0.9" />
<line x1="158.32" y1="479.1" x2="158.32" y2="480.7" stroke="#969696" stroke-width="0.9" />
<line x1="168.56" y1="479.1" x2="168.56" y2="480.7" stroke="#969696" stroke-width="0.9" />
<line x1="178.8" y1="479.1" x2="178.8" y2="480.7" stroke="#969696" stroke-width="0.9" />
<line x1="189.04" y1="479.1" x2="189.04" y2="480.7" stroke="#969696" stroke-width="0.9" />
<line x1="199.28" y1="479.1" x2="199.28" y2="480.7" stroke="#969696" stroke-width="0.9" />
<line x1="209.52" y1="479.1" x2="209.52" y2="480.7" stroke="#969696" stroke-width="0.9" />
<line x1="219.76" y1="479.1" x2="219.76" y2="480.7" stroke="#969696" stroke-width="0.9" />
<line x1="230.0" y1="479.1" x2="230.0" y2="480.7" stroke="#969696" stroke-width="0.9" />
<line x1="240.24" y1="479.1" x2="240.24" y2="480.7" stroke="#969696" stroke-width="0.9" />
<text x="66.3" y="418.8" font-size="10.5" text-anchor="end" fill="#111" >800</text>
<text x="66.3" y="436.3" font-size="10.5" text-anchor="end" fill="#111" >600</text>
<text x="66.3" y="453.3" font-size="10.5" text-anchor="end" fill="#111" >400</text>
<text x="66.3" y="470.8" font-size="10.5" text-anchor="end" fill="#111" >200</text>
<text x="66.3" y="488.3" font-size="10.5" text-anchor="end" fill="#111" >0</text>
<polyline points="76.4,417 86.64,421.25 96.88,422 107.12,419 117.36,420 127.6,419.5 137.84,420 148.08,423.25 158.32,426.75 168.56,436.25 178.8,449.5 189.04,466.25 199.28,477.5 209.52,478.6 219.76,478.6 230.0,478.6 240.24,478.6" fill="none" stroke="#000" stroke-width="1.65" stroke-linejoin="round"/>
<circle cx="76.4" cy="417" r="1.9" fill="#000"/>
<circle cx="86.64" cy="421.25" r="1.9" fill="#000"/>
<circle cx="96.88" cy="422" r="1.9" fill="#000"/>
<circle cx="107.12" cy="419" r="1.9" fill="#000"/>
<circle cx="117.36" cy="420" r="1.9" fill="#000"/>
<circle cx="127.6" cy="419.5" r="1.9" fill="#000"/>
<circle cx="137.84" cy="420" r="1.9" fill="#000"/>
<circle cx="148.08" cy="423.25" r="1.9" fill="#000"/>
<circle cx="158.32" cy="426.75" r="1.9" fill="#000"/>
<circle cx="168.56" cy="436.25" r="1.9" fill="#000"/>
<circle cx="178.8" cy="449.5" r="1.9" fill="#000"/>
<circle cx="189.04" cy="466.25" r="1.9" fill="#000"/>
<circle cx="199.28" cy="477.5" r="1.9" fill="#000"/>
<circle cx="209.52" cy="478.6" r="1.9" fill="#000"/>
<circle cx="219.76" cy="478.6" r="1.9" fill="#000"/>
<circle cx="230.0" cy="478.6" r="1.9" fill="#000"/>
<circle cx="240.24" cy="478.6" r="1.9" fill="#000"/>
<text x="181.65" y="421.65" font-size="10.5" text-anchor="start" fill="#111" >HSS23<tspan font-family="DejaVu Sans, sans-serif" font-size="12" dx="2.6" dy="0.6" fill="#444" stroke="none">→</tspan><tspan dx="3.2" dy="-0.6">FDPS</tspan></text>
<text x="181.65" y="434.9" font-size="10.5" text-anchor="start" fill="#111" >YLDLFGDPSV</text>
<text x="181.65" y="448.4" font-size="10.5" text-anchor="start" fill="#111" >EC50 = 0,1nM</text>
<line x1="296.5" y1="412.5" x2="296.5" y2="479.2" stroke="#a4a4a4" stroke-width="1" />
<line x1="294.3" y1="479.2" x2="470" y2="479.2" stroke="#969696" stroke-width="1" />
<line x1="294.3" y1="412.8" x2="296.5" y2="412.8" stroke="#a4a4a4" stroke-width="1" />
<line x1="294.3" y1="429.4" x2="296.5" y2="429.4" stroke="#a4a4a4" stroke-width="1" />
<line x1="294.3" y1="446.0" x2="296.5" y2="446.0" stroke="#a4a4a4" stroke-width="1" />
<line x1="294.3" y1="462.6" x2="296.5" y2="462.6" stroke="#a4a4a4" stroke-width="1" />
<line x1="301.25" y1="479.2" x2="301.25" y2="480.8" stroke="#969696" stroke-width="0.9" />
<line x1="311.48" y1="479.2" x2="311.48" y2="480.8" stroke="#969696" stroke-width="0.9" />
<line x1="321.71" y1="479.2" x2="321.71" y2="480.8" stroke="#969696" stroke-width="0.9" />
<line x1="331.94" y1="479.2" x2="331.94" y2="480.8" stroke="#969696" stroke-width="0.9" />
<line x1="342.17" y1="479.2" x2="342.17" y2="480.8" stroke="#969696" stroke-width="0.9" />
<line x1="352.4" y1="479.2" x2="352.4" y2="480.8" stroke="#969696" stroke-width="0.9" />
<line x1="362.63" y1="479.2" x2="362.63" y2="480.8" stroke="#969696" stroke-width="0.9" />
<line x1="372.86" y1="479.2" x2="372.86" y2="480.8" stroke="#969696" stroke-width="0.9" />
<line x1="383.09" y1="479.2" x2="383.09" y2="480.8" stroke="#969696" stroke-width="0.9" />
<line x1="393.32" y1="479.2" x2="393.32" y2="480.8" stroke="#969696" stroke-width="0.9" />
<line x1="403.55" y1="479.2" x2="403.55" y2="480.8" stroke="#969696" stroke-width="0.9" />
<line x1="413.78" y1="479.2" x2="413.78" y2="480.8" stroke="#969696" stroke-width="0.9" />
<line x1="424.01" y1="479.2" x2="424.01" y2="480.8" stroke="#969696" stroke-width="0.9" />
<line x1="434.24" y1="479.2" x2="434.24" y2="480.8" stroke="#969696" stroke-width="0.9" />
<line x1="444.47" y1="479.2" x2="444.47" y2="480.8" stroke="#969696" stroke-width="0.9" />
<line x1="454.7" y1="479.2" x2="454.7" y2="480.8" stroke="#969696" stroke-width="0.9" />
<line x1="464.93" y1="479.2" x2="464.93" y2="480.8" stroke="#969696" stroke-width="0.9" />
<text x="291.0" y="418.8" font-size="10.5" text-anchor="end" fill="#111" >800</text>
<text x="291.0" y="436.3" font-size="10.5" text-anchor="end" fill="#111" >600</text>
<text x="291.0" y="453.3" font-size="10.5" text-anchor="end" fill="#111" >400</text>
<text x="291.0" y="470.8" font-size="10.5" text-anchor="end" fill="#111" >200</text>
<text x="291.0" y="488.3" font-size="10.5" text-anchor="end" fill="#111" >0</text>
<polyline points="301.25,419.25 311.48,422 321.71,420 331.94,417.5 342.17,419.75 352.4,417.5 362.63,418.75 372.86,421.25 383.09,420.5 393.32,433.75 403.55,467 413.78,478.25 424.01,478.7 434.24,478.7 444.47,478.7 454.7,478.7 464.93,478.7" fill="none" stroke="#000" stroke-width="1.65" stroke-linejoin="round"/>
<circle cx="301.25" cy="419.25" r="1.9" fill="#000"/>
<circle cx="311.48" cy="422" r="1.9" fill="#000"/>
<circle cx="321.71" cy="420" r="1.9" fill="#000"/>
<circle cx="331.94" cy="417.5" r="1.9" fill="#000"/>
<circle cx="342.17" cy="419.75" r="1.9" fill="#000"/>
<circle cx="352.4" cy="417.5" r="1.9" fill="#000"/>
<circle cx="362.63" cy="418.75" r="1.9" fill="#000"/>
<circle cx="372.86" cy="421.25" r="1.9" fill="#000"/>
<circle cx="383.09" cy="420.5" r="1.9" fill="#000"/>
<circle cx="393.32" cy="433.75" r="1.9" fill="#000"/>
<circle cx="403.55" cy="467" r="1.9" fill="#000"/>
<circle cx="413.78" cy="478.25" r="1.9" fill="#000"/>
<circle cx="424.01" cy="478.7" r="1.9" fill="#000"/>
<circle cx="434.24" cy="478.7" r="1.9" fill="#000"/>
<circle cx="444.47" cy="478.7" r="1.9" fill="#000"/>
<circle cx="454.7" cy="478.7" r="1.9" fill="#000"/>
<circle cx="464.93" cy="478.7" r="1.9" fill="#000"/>
<text x="401.5" y="421.65" font-size="10.5" text-anchor="start" fill="#111" >HSS41<tspan font-family="DejaVu Sans, sans-serif" font-size="12" dx="2.6" dy="0.6" fill="#444" stroke="none">→</tspan><tspan dx="3.2" dy="-0.6">VPS13B</tspan></text>
<text x="401.5" y="434.65" font-size="10.5" text-anchor="start" fill="#111" >SLWGGDVVL</text>
<text x="401.5" y="447.4" font-size="10.5" text-anchor="start" fill="#111" >EC50 = 0,2nM</text>
<text transform="translate(307.45,488) rotate(-45)" font-size="10.2" text-anchor="end" fill="#111">10<tspan font-size="6.4" dy="-3.2">4</tspan></text>
<text transform="translate(327.91,488) rotate(-45)" font-size="10.2" text-anchor="end" fill="#111">10<tspan font-size="6.4" dy="-3.2">3</tspan></text>
<text transform="translate(348.37,488) rotate(-45)" font-size="10.2" text-anchor="end" fill="#111">10<tspan font-size="6.4" dy="-3.2">2</tspan></text>
<text transform="translate(368.83,488) rotate(-45)" font-size="10.2" text-anchor="end" fill="#111">10<tspan font-size="6.4" dy="-3.2">1</tspan></text>
<text transform="translate(389.29,488) rotate(-45)" font-size="10.2" text-anchor="end" fill="#111">10<tspan font-size="6.4" dy="-3.2">0</tspan></text>
<text transform="translate(409.75,488) rotate(-45)" font-size="10.2" text-anchor="end" fill="#111">10<tspan font-size="5.8" dy="-3.2">-1</tspan></text>
<text transform="translate(430.21,488) rotate(-45)" font-size="10.2" text-anchor="end" fill="#111">10<tspan font-size="5.8" dy="-3.2">-2</tspan></text>
<text transform="translate(450.67,488) rotate(-45)" font-size="10.2" text-anchor="end" fill="#111">10<tspan font-size="5.8" dy="-3.2">-3</tspan></text>
<text transform="translate(471.13,488) rotate(-45)" font-size="10.2" text-anchor="end" fill="#111">10<tspan font-size="5.8" dy="-3.2">-4</tspan></text>
<text x="306.25" y="508.75" font-size="10.6" text-anchor="start" fill="#111" >nM peptide</text>
<line x1="375.5" y1="505.5" x2="432.75" y2="505.5" stroke="#111" stroke-width="1" />
<polygon points="438.75,505.5 430.75,502.9 430.75,508.1" fill="#000"/>
<line x1="71.8" y1="507.7" x2="71.8" y2="575.1" stroke="#a4a4a4" stroke-width="1" />
<line x1="69.6" y1="575.1" x2="245" y2="575.1" stroke="#969696" stroke-width="1" />
<line x1="69.6" y1="508.0" x2="71.8" y2="508.0" stroke="#a4a4a4" stroke-width="1" />
<line x1="69.6" y1="524.77" x2="71.8" y2="524.77" stroke="#a4a4a4" stroke-width="1" />
<line x1="69.6" y1="541.55" x2="71.8" y2="541.55" stroke="#a4a4a4" stroke-width="1" />
<line x1="69.6" y1="558.33" x2="71.8" y2="558.33" stroke="#a4a4a4" stroke-width="1" />
<line x1="76.4" y1="575.1" x2="76.4" y2="576.7" stroke="#969696" stroke-width="0.9" />
<line x1="86.64" y1="575.1" x2="86.64" y2="576.7" stroke="#969696" stroke-width="0.9" />
<line x1="96.88" y1="575.1" x2="96.88" y2="576.7" stroke="#969696" stroke-width="0.9" />
<line x1="107.12" y1="575.1" x2="107.12" y2="576.7" stroke="#969696" stroke-width="0.9" />
<line x1="117.36" y1="575.1" x2="117.36" y2="576.7" stroke="#969696" stroke-width="0.9" />
<line x1="127.6" y1="575.1" x2="127.6" y2="576.7" stroke="#969696" stroke-width="0.9" />
<line x1="137.84" y1="575.1" x2="137.84" y2="576.7" stroke="#969696" stroke-width="0.9" />
<line x1="148.08" y1="575.1" x2="148.08" y2="576.7" stroke="#969696" stroke-width="0.9" />
<line x1="158.32" y1="575.1" x2="158.32" y2="576.7" stroke="#969696" stroke-width="0.9" />
<line x1="168.56" y1="575.1" x2="168.56" y2="576.7" stroke="#969696" stroke-width="0.9" />
<line x1="178.8" y1="575.1" x2="178.8" y2="576.7" stroke="#969696" stroke-width="0.9" />
<line x1="189.04" y1="575.1" x2="189.04" y2="576.7" stroke="#969696" stroke-width="0.9" />
<line x1="199.28" y1="575.1" x2="199.28" y2="576.7" stroke="#969696" stroke-width="0.9" />
<line x1="209.52" y1="575.1" x2="209.52" y2="576.7" stroke="#969696" stroke-width="0.9" />
<line x1="219.76" y1="575.1" x2="219.76" y2="576.7" stroke="#969696" stroke-width="0.9" />
<line x1="230.0" y1="575.1" x2="230.0" y2="576.7" stroke="#969696" stroke-width="0.9" />
<line x1="240.24" y1="575.1" x2="240.24" y2="576.7" stroke="#969696" stroke-width="0.9" />
<text x="66.3" y="513.8" font-size="10.5" text-anchor="end" fill="#111" >800</text>
<text x="66.3" y="531.3" font-size="10.5" text-anchor="end" fill="#111" >600</text>
<text x="66.3" y="548.8" font-size="10.5" text-anchor="end" fill="#111" >400</text>
<text x="66.3" y="566.8" font-size="10.5" text-anchor="end" fill="#111" >200</text>
<text x="66.3" y="584.3" font-size="10.5" text-anchor="end" fill="#111" >0</text>
<polyline points="76.4,516.25 86.64,516.5 96.88,517.5 107.12,515.25 117.36,515 127.6,516.25 137.84,518.25 148.08,526.25 158.32,553.75 168.56,571.75 178.8,574.6 189.04,574.6 199.28,574.6 209.52,574.6 219.76,574.6 230.0,574.6 240.24,574.6" fill="none" stroke="#000" stroke-width="1.65" stroke-linejoin="round"/>
<circle cx="76.4" cy="516.25" r="1.9" fill="#000"/>
<circle cx="86.64" cy="516.5" r="1.9" fill="#000"/>
<circle cx="96.88" cy="517.5" r="1.9" fill="#000"/>
<circle cx="107.12" cy="515.25" r="1.9" fill="#000"/>
<circle cx="117.36" cy="515" r="1.9" fill="#000"/>
<circle cx="127.6" cy="516.25" r="1.9" fill="#000"/>
<circle cx="137.84" cy="518.25" r="1.9" fill="#000"/>
<circle cx="148.08" cy="526.25" r="1.9" fill="#000"/>
<circle cx="158.32" cy="553.75" r="1.9" fill="#000"/>
<circle cx="168.56" cy="571.75" r="1.9" fill="#000"/>
<circle cx="178.8" cy="574.6" r="1.9" fill="#000"/>
<circle cx="189.04" cy="574.6" r="1.9" fill="#000"/>
<circle cx="199.28" cy="574.6" r="1.9" fill="#000"/>
<circle cx="209.52" cy="574.6" r="1.9" fill="#000"/>
<circle cx="219.76" cy="574.6" r="1.9" fill="#000"/>
<circle cx="230.0" cy="574.6" r="1.9" fill="#000"/>
<circle cx="240.24" cy="574.6" r="1.9" fill="#000"/>
<text x="181.65" y="521.65" font-size="10.5" text-anchor="start" fill="#111" >HSS47<tspan font-family="DejaVu Sans, sans-serif" font-size="12" dx="2.6" dy="0.6" fill="#444" stroke="none">→</tspan><tspan dx="3.2" dy="-0.6">ATXN10</tspan></text>
<text x="181.65" y="534.9" font-size="10.5" text-anchor="start" fill="#111" >QVFPGLLERV</text>
<text x="181.65" y="547.9" font-size="10.5" text-anchor="start" fill="#111" >EC50 = 2nM</text>
<text transform="translate(81.6,584.4) rotate(-45)" font-size="10.2" text-anchor="end" fill="#111">10<tspan font-size="6.4" dy="-3.2">4</tspan></text>
<text transform="translate(102.08,584.4) rotate(-45)" font-size="10.2" text-anchor="end" fill="#111">10<tspan font-size="6.4" dy="-3.2">3</tspan></text>
<text transform="translate(122.56,584.4) rotate(-45)" font-size="10.2" text-anchor="end" fill="#111">10<tspan font-size="6.4" dy="-3.2">2</tspan></text>
<text transform="translate(143.04,584.4) rotate(-45)" font-size="10.2" text-anchor="end" fill="#111">10<tspan font-size="6.4" dy="-3.2">1</tspan></text>
<text transform="translate(163.52,584.4) rotate(-45)" font-size="10.2" text-anchor="end" fill="#111">10<tspan font-size="6.4" dy="-3.2">0</tspan></text>
<text transform="translate(184.0,584.4) rotate(-45)" font-size="10.2" text-anchor="end" fill="#111">10<tspan font-size="5.8" dy="-3.2">-1</tspan></text>
<text transform="translate(204.48,584.4) rotate(-45)" font-size="10.2" text-anchor="end" fill="#111">10<tspan font-size="5.8" dy="-3.2">-2</tspan></text>
<text transform="translate(224.96,584.4) rotate(-45)" font-size="10.2" text-anchor="end" fill="#111">10<tspan font-size="5.8" dy="-3.2">-3</tspan></text>
<text transform="translate(245.44,584.4) rotate(-45)" font-size="10.2" text-anchor="end" fill="#111">10<tspan font-size="5.8" dy="-3.2">-4</tspan></text>
<text x="73.25" y="608" font-size="10.6" text-anchor="start" fill="#111" >nM peptide</text>
<line x1="142.5" y1="606.25" x2="200.25" y2="606.25" stroke="#111" stroke-width="1" />
<polygon points="206.25,606.25 198.25,603.65 198.25,608.85" fill="#000"/>
<line x1="34.5" y1="384.5" x2="34.5" y2="327.25" stroke="#111" stroke-width="1" />
<polygon points="34.5,321.25 31.6,329.65 37.4,329.65" fill="#000"/>
<line x1="34.75" y1="561.25" x2="34.75" y2="503.5" stroke="#111" stroke-width="1" />
<polygon points="34.75,497.5 31.85,505.9 37.65,505.9" fill="#000"/>
<text transform="translate(40,438.75) rotate(-90)" font-size="10.6" text-anchor="middle" fill="#111">IFNγ pg/ml</text>
<line x1="72.5" y1="643.7" x2="72.5" y2="724.4" stroke="#808080" stroke-width="1" />
<line x1="70.3" y1="724.4" x2="255" y2="724.4" stroke="#808080" stroke-width="1" />
<line x1="70.3" y1="644.0" x2="72.5" y2="644.0" stroke="#808080" stroke-width="1" />
<line x1="70.3" y1="664.1" x2="72.5" y2="664.1" stroke="#808080" stroke-width="1" />
<line x1="70.3" y1="684.2" x2="72.5" y2="684.2" stroke="#808080" stroke-width="1" />
<line x1="70.3" y1="704.3" x2="72.5" y2="704.3" stroke="#808080" stroke-width="1" />
<line x1="87.8" y1="724.4" x2="87.8" y2="726.0" stroke="#808080" stroke-width="0.9" />
<line x1="103.1" y1="724.4" x2="103.1" y2="726.0" stroke="#808080" stroke-width="0.9" />
<line x1="118.4" y1="724.4" x2="118.4" y2="726.0" stroke="#808080" stroke-width="0.9" />
<line x1="133.7" y1="724.4" x2="133.7" y2="726.0" stroke="#808080" stroke-width="0.9" />
<line x1="149.0" y1="724.4" x2="149.0" y2="726.0" stroke="#808080" stroke-width="0.9" />
<line x1="164.3" y1="724.4" x2="164.3" y2="726.0" stroke="#808080" stroke-width="0.9" />
<line x1="179.6" y1="724.4" x2="179.6" y2="726.0" stroke="#808080" stroke-width="0.9" />
<line x1="194.9" y1="724.4" x2="194.9" y2="726.0" stroke="#808080" stroke-width="0.9" />
<line x1="210.2" y1="724.4" x2="210.2" y2="726.0" stroke="#808080" stroke-width="0.9" />
<line x1="225.5" y1="724.4" x2="225.5" y2="726.0" stroke="#808080" stroke-width="0.9" />
<line x1="240.8" y1="724.4" x2="240.8" y2="726.0" stroke="#808080" stroke-width="0.9" />
<text x="66.5" y="648.8" font-size="10.5" text-anchor="end" fill="#111" >400</text>
<text x="66.5" y="668.55" font-size="10.5" text-anchor="end" fill="#111" >300</text>
<text x="66.5" y="688.05" font-size="10.5" text-anchor="end" fill="#111" >200</text>
<text x="66.5" y="708.55" font-size="10.5" text-anchor="end" fill="#111" >100</text>
<text x="66.5" y="728.5" font-size="10.5" text-anchor="end" fill="#111" >0</text>
<polyline points="80,661.5 95.5,655 110.75,652 125.75,670 140.5,677.5 155.75,697 171.25,712.5 187,718.25 202.5,719.5 217.5,720 232.5,720.5 247.5,720.75" fill="none" stroke="#000" stroke-width="1.9" stroke-linejoin="round"/>
<polygon points="76.7,661.5 80,658.2 83.3,661.5 80,664.8" fill="#000"/>
<polygon points="92.2,655 95.5,651.7 98.8,655 95.5,658.3" fill="#000"/>
<polygon points="107.45,652 110.75,648.7 114.05,652 110.75,655.3" fill="#000"/>
<polygon points="122.45,670 125.75,666.7 129.05,670 125.75,673.3" fill="#000"/>
<polygon points="137.2,677.5 140.5,674.2 143.8,677.5 140.5,680.8" fill="#000"/>
<polygon points="152.45,697 155.75,693.7 159.05,697 155.75,700.3" fill="#000"/>
<polygon points="167.95,712.5 171.25,709.2 174.55,712.5 171.25,715.8" fill="#000"/>
<polygon points="183.7,718.25 187,714.95 190.3,718.25 187,721.55" fill="#000"/>
<polygon points="199.2,719.5 202.5,716.2 205.8,719.5 202.5,722.8" fill="#000"/>
<polygon points="214.2,720 217.5,716.7 220.8,720 217.5,723.3" fill="#000"/>
<polygon points="229.2,720.5 232.5,717.2 235.8,720.5 232.5,723.8" fill="#000"/>
<polygon points="244.2,720.75 247.5,717.45 250.8,720.75 247.5,724.05" fill="#000"/>
<text x="161.4" y="657.5" font-size="10.5" text-anchor="start" fill="#111" >clone HSS8<tspan font-family="DejaVu Sans, sans-serif" font-size="12" dx="2.6" dy="0.6" fill="#444" stroke="none">→</tspan><tspan dx="3.2" dy="-0.6">KRI1</tspan></text>
<text x="161.4" y="670.5" font-size="10.5" text-anchor="start" fill="#111" >LLGPTVML</text>
<text x="161.4" y="683.5" font-size="10.5" text-anchor="start" fill="#111" >EC50 = 30nM</text>
<text transform="translate(84.4,735.2) rotate(-45)" font-size="10.2" text-anchor="end" fill="#111">10<tspan font-size="6.4" dy="-3.2">4</tspan></text>
<text transform="translate(115.15,735.2) rotate(-45)" font-size="10.2" text-anchor="end" fill="#111">10<tspan font-size="6.4" dy="-3.2">3</tspan></text>
<text transform="translate(144.9,735.2) rotate(-45)" font-size="10.2" text-anchor="end" fill="#111">10<tspan font-size="6.4" dy="-3.2">2</tspan></text>
<text transform="translate(175.65,735.2) rotate(-45)" font-size="10.2" text-anchor="end" fill="#111">10<tspan font-size="6.4" dy="-3.2">1</tspan></text>
<text transform="translate(206.9,735.2) rotate(-45)" font-size="10.2" text-anchor="end" fill="#111">10<tspan font-size="6.4" dy="-3.2">0</tspan></text>
<text transform="translate(236.9,735.2) rotate(-45)" font-size="10.2" text-anchor="end" fill="#111">10<tspan font-size="5.8" dy="-3.2">-1</tspan></text>
<text x="107.5" y="754.5" font-size="10.6" text-anchor="start" fill="#111" >nM peptide</text>
<text transform="translate(42.4,686.25) rotate(-90)" font-size="10.6" text-anchor="middle" fill="#111">IFNγ pg/ml</text>
</svg>
</body>
</html>
